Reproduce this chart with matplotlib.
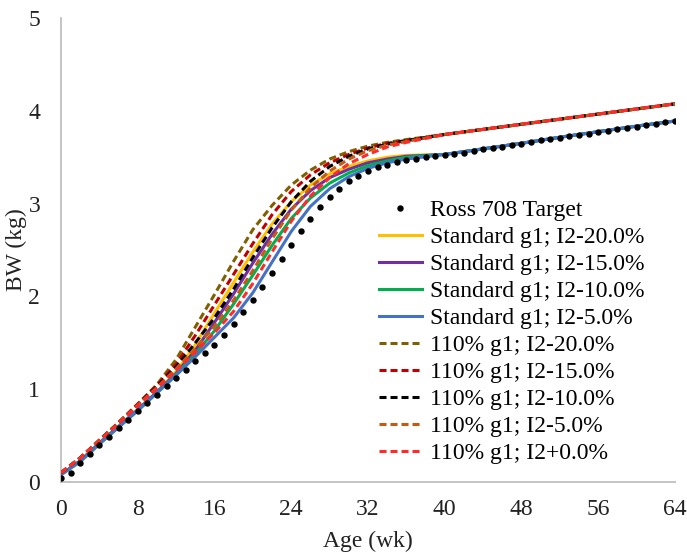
import matplotlib
matplotlib.use("Agg")
import matplotlib.pyplot as plt

plt.rcParams['font.family'] = ['Liberation Serif', 'DejaVu Serif']

# Ross 708 target, weekly
target_wk = list(range(0, 65))
target_bw = [0.04, 0.10, 0.20, 0.30, 0.40, 0.49, 0.58, 0.67, 0.76, 0.85,
             0.94, 1.03, 1.12, 1.21, 1.30, 1.39, 1.48, 1.58, 1.70, 1.83,
             1.96, 2.10, 2.25, 2.40, 2.55, 2.70, 2.83, 2.96, 3.07, 3.16,
             3.24, 3.30, 3.35, 3.39, 3.42, 3.45, 3.47, 3.485, 3.50, 3.51,
             3.52, 3.535, 3.55, 3.57, 3.585, 3.60, 3.615, 3.63, 3.645, 3.66,
             3.68, 3.695, 3.71, 3.725, 3.74, 3.755, 3.77, 3.785, 3.80, 3.815,
             3.83, 3.845, 3.86, 3.875, 3.89]

# model curves
model_wk = [0, 2, 4, 6, 8, 10, 12, 14, 16, 18, 20, 22, 24, 26, 28, 30, 32, 34, 36,
            40, 44, 48, 52, 56, 60, 64]

std_20 = [0.08, 0.23, 0.42, 0.60, 0.78, 0.97, 1.19, 1.48, 1.82, 2.15, 2.48, 2.78, 3.02,
          3.20, 3.32, 3.40, 3.46, 3.50, 3.52, 3.53, 3.59, 3.65, 3.715, 3.775, 3.835, 3.89]
std_15 = [0.08, 0.23, 0.42, 0.60, 0.78, 0.97, 1.17, 1.42, 1.72, 2.03, 2.36, 2.67, 2.94,
          3.14, 3.28, 3.37, 3.44, 3.48, 3.51, 3.53, 3.59, 3.65, 3.715, 3.775, 3.835, 3.89]
std_10 = [0.08, 0.22, 0.41, 0.59, 0.77, 0.96, 1.16, 1.38, 1.63, 1.92, 2.23, 2.55, 2.84,
          3.06, 3.22, 3.33, 3.41, 3.46, 3.50, 3.53, 3.59, 3.65, 3.715, 3.775, 3.835, 3.89]
std_5 = [0.08, 0.22, 0.41, 0.59, 0.77, 0.96, 1.15, 1.35, 1.56, 1.77, 2.04, 2.37, 2.70,
         2.97, 3.16, 3.29, 3.38, 3.44, 3.48, 3.53, 3.59, 3.65, 3.715, 3.775, 3.835, 3.89]

g110_20 = [0.10, 0.26, 0.45, 0.64, 0.84, 1.05, 1.32, 1.67, 2.02, 2.38, 2.72, 2.98, 3.20,
           3.36, 3.48, 3.56, 3.62, 3.66, 3.69, 3.745, 3.80, 3.855, 3.91, 3.965, 4.02, 4.075]
g110_15 = [0.10, 0.26, 0.45, 0.64, 0.84, 1.04, 1.27, 1.58, 1.91, 2.24, 2.57, 2.88, 3.13,
           3.31, 3.44, 3.53, 3.60, 3.65, 3.68, 3.745, 3.80, 3.855, 3.91, 3.965, 4.02, 4.075]
g110_10 = [0.10, 0.26, 0.45, 0.64, 0.83, 1.03, 1.24, 1.50, 1.77, 2.08, 2.42, 2.74, 3.02,
           3.24, 3.40, 3.51, 3.59, 3.64, 3.68, 3.745, 3.80, 3.855, 3.91, 3.965, 4.02, 4.075]
g110_5 = [0.10, 0.26, 0.45, 0.64, 0.83, 1.02, 1.22, 1.44, 1.68, 1.96, 2.28, 2.62, 2.93,
          3.17, 3.35, 3.48, 3.57, 3.63, 3.67, 3.745, 3.80, 3.855, 3.91, 3.965, 4.02, 4.075]
g110_0 = [0.10, 0.26, 0.44, 0.63, 0.82, 1.01, 1.20, 1.40, 1.61, 1.84, 2.14, 2.48, 2.81,
          3.08, 3.28, 3.43, 3.53, 3.61, 3.66, 3.745, 3.80, 3.855, 3.91, 3.965, 4.02, 4.075]

std_series = [("Standard g1; I2-20.0%", std_20, "#FFC000"),
              ("Standard g1; I2-15.0%", std_15, "#7030A0"),
              ("Standard g1; I2-10.0%", std_10, "#00B050"),
              ("Standard g1; I2-5.0%", std_5, "#4472C4")]
g110_series = [("110% g1; I2-20.0%", g110_20, "#7F6000"),
               ("110% g1; I2-15.0%", g110_15, "#C00000"),
               ("110% g1; I2-10.0%", g110_10, "#000000"),
               ("110% g1; I2-5.0%", g110_5, "#C55A11"),
               ("110% g1; I2+0.0%", g110_0, "#FF2A2A")]

FS = 17

fig = plt.figure(figsize=(6.87, 5.57), dpi=100)
ax = fig.add_axes([0.0888, 0.1346, 0.8937, 0.8331])

ax.plot(target_wk, target_bw, linestyle='none', marker='o', markersize=3.6,
        color='black', label="Ross 708 Target", zorder=5)
for name, vals, col in std_series:
    ax.plot(model_wk, vals, color=col, lw=2.2, label=name, zorder=3)
for name, vals, col in g110_series:
    ax.plot(model_wk, vals, color=col, lw=2.2, dashes=(2.3, 1.3), label=name, zorder=4)

ax.set_xlim(0, 64)
ax.set_ylim(0, 5)
ax.set_xticks(range(0, 65, 8))
ax.set_yticks(range(0, 6))
ax.tick_params(length=0, labelsize=FS, colors='#222222')
ax.tick_params(axis='x', pad=12)
ax.tick_params(axis='y', pad=15)
for s in ['top', 'right']:
    ax.spines[s].set_visible(False)
for s in ['left', 'bottom']:
    ax.spines[s].set_color('#BFBFBF')
    ax.spines[s].set_linewidth(1.3)

ax.set_xlabel("Age (wk)", fontsize=FS, color='#222222', labelpad=8)
ax.set_ylabel("BW (kg)", fontsize=FS, color='#222222', labelpad=1)

# legend order: target, standard, 110%
ax.legend(loc='upper left', bbox_to_anchor=(0.518, 0.608), frameon=False,
          fontsize=FS, handlelength=1.8, handletextpad=0.35, labelspacing=0.23,
          borderaxespad=0, numpoints=1, borderpad=0)

fig.savefig("out.png", dpi=100)
